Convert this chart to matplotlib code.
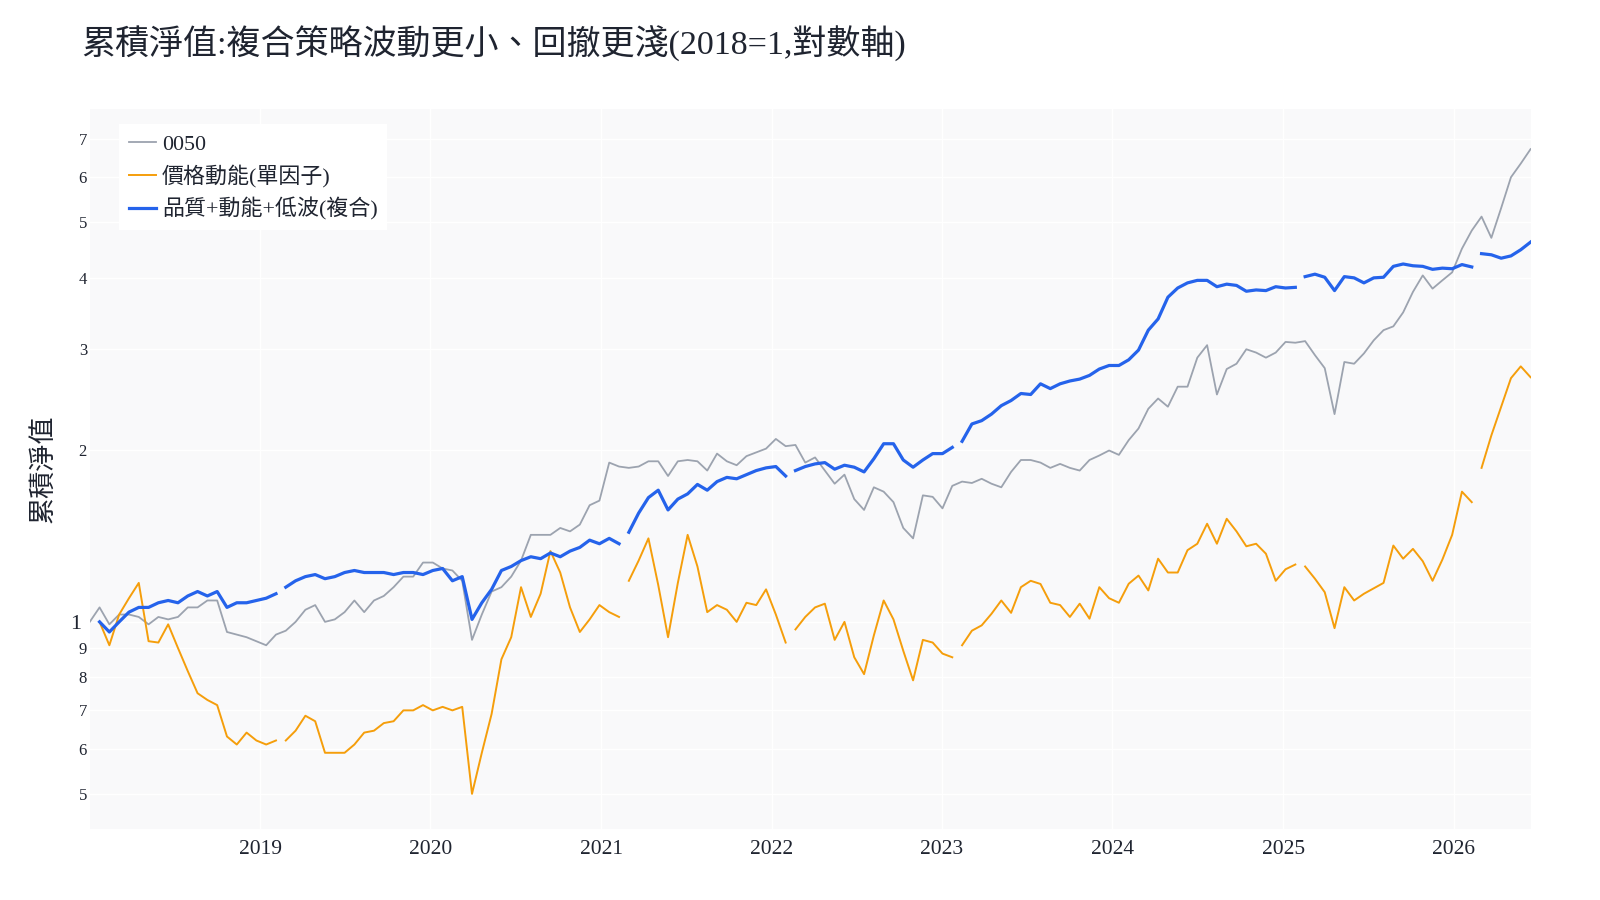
"""Cumulative NAV: composite strategy vs single-factor momentum vs 0050 (log axis)."""

import matplotlib

matplotlib.use("Agg")
import matplotlib.pyplot as plt
from matplotlib.font_manager import FontProperties
from matplotlib.ticker import FixedLocator, NullLocator
import numpy as np
import pandas as pd

FONT_FAMILY = ["Liberation Serif", "Noto Sans CJK TC"]
plt.rcParams["font.family"] = FONT_FAMILY

nan = np.nan

# sampled every 21 days from 2018-01-01
DATES = pd.date_range("2018-01-01", periods=148, freq="21D")

NAV_0050 = [
    1.00, 1.06, 0.99, 1.03, 1.03, 1.02, 0.99, 1.02, 1.01, 1.02,
    1.06, 1.06, 1.09, 1.09, 0.96, 0.95, 0.94, 0.925, 0.91, 0.95,
    0.965, 1.00, 1.05, 1.07, 1.00, 1.01, 1.04, 1.09, 1.04, 1.09,
    1.11, 1.15, 1.20, 1.20, 1.27, 1.27, 1.24, 1.23, 1.18, 0.93,
    1.03, 1.13, 1.15, 1.20, 1.28, 1.42, 1.42, 1.42, 1.46, 1.44,
    1.48, 1.60, 1.63, 1.90, 1.87, 1.86, 1.87, 1.91, 1.91, 1.80,
    1.91, 1.92, 1.91, 1.84, 1.97, 1.91, 1.88, 1.95, 1.98, 2.01,
    2.09, 2.03, 2.04, 1.90, 1.94, 1.84, 1.745, 1.81, 1.64, 1.57,
    1.72, 1.69, 1.62, 1.46, 1.40, 1.665, 1.655, 1.58, 1.73, 1.76,
    1.75, 1.78, 1.745, 1.72, 1.83, 1.92, 1.92, 1.90, 1.86, 1.89,
    1.86, 1.84, 1.92, 1.955, 1.995, 1.96, 2.08, 2.18, 2.36, 2.46,
    2.38, 2.58, 2.58, 2.90, 3.05, 2.50, 2.77, 2.83, 3.00, 2.96,
    2.90, 2.96, 3.09, 3.08, 3.10, 2.93, 2.78, 2.31, 2.85, 2.83,
    2.95, 3.11, 3.24, 3.29, 3.48, 3.78, 4.04, 3.83, 3.96, 4.09,
    4.50, 4.84, 5.12, 4.70, 5.30, 6.00, 6.34, 6.72,
]

NAV_MOMENTUM = [
    nan, 1.00, 0.91, 1.03, 1.10, 1.17, 0.925, 0.92, 0.99, 0.90,
    0.82, 0.75, 0.73, 0.715, 0.63, 0.61, 0.64, 0.62, 0.61, 0.62,
    0.62, 0.645, 0.685, 0.67, 0.59, 0.59, 0.59, 0.61, 0.64, 0.645,
    0.665, 0.67, 0.70, 0.70, 0.715, 0.70, 0.71, 0.70, 0.71, 0.50,
    0.59, 0.69, 0.86, 0.94, 1.15, 1.02, 1.12, 1.33, 1.22, 1.06,
    0.96, 1.01, 1.07, 1.04, 1.02, 1.18, 1.28, 1.40, 1.16, 0.94,
    1.17, 1.42, 1.25, 1.04, 1.07, 1.05, 1.00, 1.08, 1.07, 1.14,
    1.03, 0.92, 0.97, 1.02, 1.06, 1.076, 0.93, 1.00, 0.867, 0.81,
    0.947, 1.09, 1.01, 0.89, 0.79, 0.93, 0.92, 0.88, 0.867, 0.91,
    0.965, 0.986, 1.033, 1.09, 1.037, 1.15, 1.18, 1.165, 1.08, 1.07,
    1.02, 1.076, 1.013, 1.15, 1.10, 1.08, 1.166, 1.205, 1.135, 1.29,
    1.22, 1.22, 1.335, 1.37, 1.485, 1.37, 1.515, 1.44, 1.356, 1.37,
    1.316, 1.18, 1.236, 1.26, 1.25, 1.19, 1.127, 0.975, 1.15, 1.09,
    1.12, 1.145, 1.17, 1.36, 1.29, 1.342, 1.277, 1.18, 1.285, 1.42,
    1.69, 1.62, 1.86, 2.12, 2.38, 2.67, 2.80, 2.68,
]

NAV_COMPOSITE = [
    nan, 1.00, 0.96, 1.00, 1.04, 1.06, 1.06, 1.08, 1.09, 1.08,
    1.11, 1.13, 1.11, 1.13, 1.06, 1.08, 1.08, 1.09, 1.10, 1.12,
    1.15, 1.18, 1.20, 1.21, 1.19, 1.20, 1.22, 1.23, 1.22, 1.22,
    1.22, 1.21, 1.22, 1.22, 1.21, 1.23, 1.24, 1.18, 1.20, 1.01,
    1.08, 1.14, 1.23, 1.25, 1.28, 1.30, 1.29, 1.32, 1.30, 1.33,
    1.35, 1.39, 1.37, 1.40, 1.37, 1.435, 1.55, 1.65, 1.70, 1.57,
    1.64, 1.675, 1.74, 1.70, 1.76, 1.79, 1.78, 1.81, 1.84, 1.86,
    1.87, 1.80, 1.84, 1.87, 1.89, 1.90, 1.85, 1.88, 1.865, 1.83,
    1.93, 2.05, 2.05, 1.92, 1.865, 1.92, 1.97, 1.97, 2.02, 2.07,
    2.22, 2.25, 2.31, 2.39, 2.44, 2.51, 2.50, 2.61, 2.56, 2.61,
    2.64, 2.66, 2.70, 2.77, 2.81, 2.81, 2.875, 2.99, 3.24, 3.39,
    3.70, 3.84, 3.92, 3.96, 3.96, 3.86, 3.90, 3.88, 3.79, 3.81,
    3.80, 3.86, 3.84, 3.85, 4.02, 4.06, 4.01, 3.80, 4.02, 4.00,
    3.92, 4.00, 4.01, 4.19, 4.23, 4.20, 4.19, 4.14, 4.16, 4.15,
    4.22, 4.18, 4.41, 4.39, 4.33, 4.37, 4.48, 4.62,
]

# missing rebalance weeks in the strategy series
GAP_DATES = ["2019-02-14", "2021-02-18", "2022-02-10", "2023-02-02", "2025-02-06", "2026-02-19"]

SERIES_LABELS = ["0050", "價格動能(單因子)", "品質+動能+低波(複合)"]
SERIES_COLORS = ["#9ca3af", "#f59e0b", "#2563eb"]

X_TICK_YEARS = [2019, 2020, 2021, 2022, 2023, 2024, 2025, 2026]
Y_TICKS = [0.5, 0.6, 0.7, 0.8, 0.9, 1, 2, 3, 4, 5, 6, 7]
Y_TICK_LABELS = ["5", "6", "7", "8", "9", "1", "2", "3", "4", "5", "6", "7"]

TITLE = "累積淨值:複合策略波動更小、回撤更淺(2018=1,對數軸)"
Y_LABEL = "累積淨值"
TEXT_COLOR = "#1f2430"


def with_gaps(values: list[float]) -> pd.Series:
    s = pd.Series(values, index=DATES, dtype=float)
    gaps = pd.Series(np.nan, index=pd.to_datetime(GAP_DATES))
    return pd.concat([s, gaps]).sort_index()


def main() -> None:
    fig = plt.figure(figsize=(16, 9), dpi=100)
    ax = fig.add_axes([0.0561, 0.0789, 0.9005, 0.8])
    ax.set_facecolor("#f9f9fa")
    for spine in ax.spines.values():
        spine.set_visible(False)

    gray = pd.Series(NAV_0050, index=DATES)
    momentum = with_gaps(NAV_MOMENTUM)
    composite = with_gaps(NAV_COMPOSITE)

    ax.plot(gray.index, gray.values, color=SERIES_COLORS[0], lw=1.3,
            label=SERIES_LABELS[0], solid_joinstyle="round", zorder=2)
    ax.plot(momentum.index, momentum.values, color=SERIES_COLORS[1], lw=1.4,
            label=SERIES_LABELS[1], solid_joinstyle="round", zorder=3)
    ax.plot(composite.index, composite.values, color=SERIES_COLORS[2], lw=2.3,
            label=SERIES_LABELS[2], solid_joinstyle="round", zorder=4)

    ax.set_yscale("log")
    ax.set_ylim(0.434, 7.9)
    ax.set_xlim(DATES[0], DATES[-1])
    ax.yaxis.set_major_locator(FixedLocator(Y_TICKS))
    ax.yaxis.set_minor_locator(NullLocator())
    ax.set_yticks(Y_TICKS, labels=Y_TICK_LABELS)
    x_ticks = [pd.Timestamp(year=y, month=1, day=1) for y in X_TICK_YEARS]
    ax.set_xticks(x_ticks, labels=[str(y) for y in X_TICK_YEARS])

    ax.grid(True, which="major", color="white", lw=1.0, zorder=0)
    ax.set_axisbelow(True)
    ax.tick_params(axis="both", length=0, colors=TEXT_COLOR)
    ax.tick_params(axis="y", labelsize=12, pad=2)
    ax.tick_params(axis="x", labelsize=15.5, pad=8)
    for tick in ax.yaxis.get_major_ticks():
        if tick.label1.get_text() == "1":
            tick.label1.set_fontsize(16)
            tick.set_pad(6)

    fig.text(0.051, 0.951, TITLE, fontsize=24.5, color=TEXT_COLOR, ha="left", va="center")
    fig.text(0.0275, 0.479, Y_LABEL, fontsize=19.5, color=TEXT_COLOR, rotation=90,
             ha="center", va="center")

    leg = ax.legend(loc="upper left", bbox_to_anchor=(0.0203, 0.9785), borderaxespad=0,
                    frameon=True, facecolor="white", edgecolor="none", framealpha=1,
                    fancybox=False, borderpad=0.45, handlelength=1.25, handletextpad=0.25,
                    labelspacing=0.45, prop=FontProperties(family=FONT_FAMILY, size=15.8))
    for text in leg.get_texts():
        text.set_color(TEXT_COLOR)

    fig.savefig("out.png", dpi=100)
    plt.close(fig)


if __name__ == "__main__":
    main()
